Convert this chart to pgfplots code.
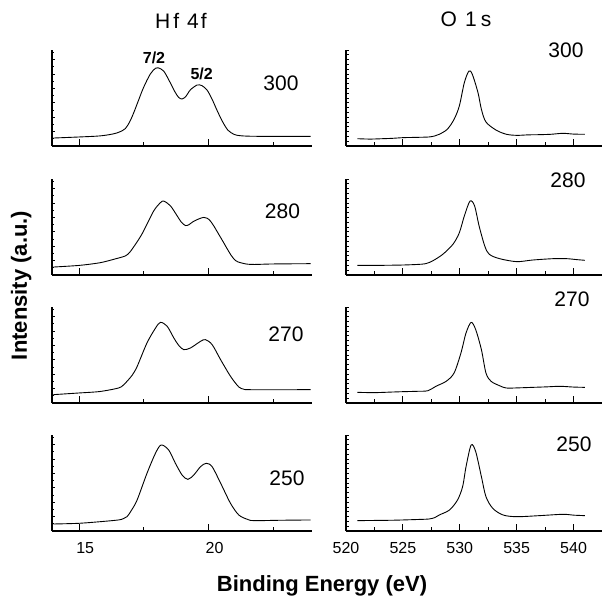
\documentclass[border=0pt]{standalone}
\usepackage{fontspec}
\setmainfont{Liberation Sans}
\usepackage{pgfplots}
\pgfplotsset{compat=1.18}
\newcommand\fs[1]{\fontsize{#1}{#1}\selectfont}

\tikzset{spec/.style={black, line width=0.9pt, smooth, mark=none}}
\pgfplotsset{
  xps/.style={
    scale only axis, height=96pt, anchor=south west,
    axis x line*=bottom, axis y line*=left,
    axis line style={line width=1.3pt},
    ymin=0, ymax=1,
    yticklabels={},
    tick style={black, line width=0.8pt},
    major tick length=7pt, minor tick length=4pt,
    ytick style={/pgfplots/major tick length=3pt, /pgfplots/minor tick length=1.5pt},
    tick align=inside,
    xticklabel style={font=\fs{16}, yshift=-8pt},
  },
  hf/.style={xps, width=260pt, xmin=13.95, xmax=24,
    xtick={15,20}, xticklabels={15,20}, minor xtick={17.5,22.5},
    ytick distance=0.15, minor y tick num=1,
    xticklabel style={xshift=6pt}},
  os/.style={xps, width=256pt, xmin=520, xmax=542.5,
    xtick={520,525,530,535,540}, xticklabels={520,525,530,535,540},
    minor xtick={522.5,527.5,532.5,537.5},
    ytick distance=0.05},
  nolab/.style={xticklabels={}},
}

\begin{document}
\begin{tikzpicture}
\useasboundingbox (0pt,0pt) rectangle (602pt,595pt);

% Hf 4f column
\begin{axis}[hf, nolab, at={(52pt,449pt)}]
\addplot[spec] coordinates {(14.0,0.083) (15.0,0.094) (15.8,0.105) (16.3,0.125) (16.55,0.145)
  (16.78,0.18) (16.95,0.25) (17.1,0.34) (17.3,0.48) (17.49,0.61) (17.75,0.75) (17.95,0.81)
  (18.05,0.815) (18.27,0.78) (18.5,0.67) (18.7,0.565) (18.85,0.505) (18.98,0.49)
  (19.12,0.515) (19.3,0.585) (19.56,0.635) (19.75,0.628) (19.95,0.58) (20.15,0.48)
  (20.34,0.365) (20.55,0.25) (20.75,0.165) (20.98,0.122) (21.2,0.108) (21.6,0.102)
  (22.5,0.1) (23.95,0.1)};
\end{axis}
\begin{axis}[hf, nolab, at={(52pt,320pt)}]
\addplot[spec] coordinates {(14.0,0.083) (15.0,0.10) (15.81,0.128) (16.33,0.163) (16.78,0.198)
  (16.95,0.235) (17.1,0.29) (17.3,0.37) (17.49,0.458) (17.88,0.667) (18.14,0.753) (18.27,0.77)
  (18.53,0.72) (18.79,0.615) (18.95,0.55) (19.11,0.515) (19.25,0.525) (19.43,0.56) (19.82,0.60)
  (20.08,0.56) (20.47,0.39) (20.85,0.215) (21.05,0.15) (21.24,0.128) (21.63,0.11)
  (22.5,0.115) (23.95,0.118)};
\end{axis}
\begin{axis}[hf, nolab, at={(52pt,192pt)}]
\addplot[spec] coordinates {(14.0,0.087) (14.97,0.104) (15.81,0.12) (16.52,0.156) (16.7,0.185)
  (16.85,0.226) (17.05,0.29) (17.24,0.38) (17.62,0.625) (17.95,0.78) (18.14,0.84) (18.4,0.80)
  (18.66,0.677) (18.85,0.6) (19.04,0.556) (19.3,0.573) (19.69,0.642) (19.88,0.66) (20.14,0.608)
  (20.47,0.45) (20.85,0.278) (21.17,0.167) (21.35,0.145) (21.5,0.139) (22.5,0.138) (23.95,0.139)};
\end{axis}
\begin{axis}[hf, at={(52pt,64pt)}]
\addplot[spec] coordinates {(14.0,0.073) (14.97,0.08) (15.81,0.097) (16.52,0.115) (16.7,0.128)
  (16.85,0.149) (17.02,0.215) (17.24,0.323) (17.62,0.60) (17.95,0.81) (18.17,0.896) (18.46,0.844)
  (18.72,0.705) (18.98,0.583) (19.2,0.538) (19.43,0.583) (19.69,0.67) (19.91,0.705) (20.14,0.67)
  (20.47,0.497) (20.85,0.288) (21.17,0.167) (21.5,0.122) (21.76,0.108) (22.8,0.112) (23.95,0.115)};
\end{axis}

% O 1s column
\begin{axis}[os, nolab, at={(346pt,449pt)}]
\addplot[spec] coordinates {(521.0,0.076) (522.1,0.072) (523.2,0.076) (524.1,0.08) (525.0,0.087)
  (526.2,0.09) (527.3,0.094) (527.8,0.105) (528.2,0.122) (528.9,0.174) (529.5,0.278) (529.96,0.417)
  (530.4,0.66) (530.8,0.78) (531.1,0.747) (531.6,0.556) (531.9,0.382) (532.3,0.25)
  (533.2,0.165) (534.1,0.122) (535.0,0.111) (536.0,0.116) (537.0,0.118) (538.0,0.122)
  (539.06,0.132) (540.0,0.124) (541.0,0.122)};
\end{axis}
\begin{axis}[os, nolab, at={(346pt,320pt)}]
\addplot[spec] coordinates {(521.0,0.10) (522.5,0.10) (524.0,0.102) (525.0,0.104) (526.3,0.11)
  (527.0,0.118) (527.6,0.146) (528.5,0.215) (529.4,0.32) (529.96,0.44) (530.4,0.615) (530.9,0.77)
  (531.3,0.72) (531.7,0.51) (532.2,0.30) (532.6,0.215) (533.5,0.17) (535.0,0.139)
  (536.4,0.156) (538.2,0.17) (539.4,0.17) (540.3,0.16) (541.0,0.153)};
\end{axis}
\begin{axis}[os, nolab, at={(346pt,192pt)}]
\addplot[spec] coordinates {(521.0,0.111) (522.5,0.108) (524.0,0.114) (525.0,0.118) (526.3,0.122)
  (527.2,0.128) (527.9,0.174) (528.8,0.226) (529.5,0.3125) (530.1,0.52) (530.55,0.73) (531.0,0.84)
  (531.4,0.764) (531.9,0.556) (532.3,0.3125) (532.75,0.226) (533.5,0.18) (534.1,0.156)
  (535.2,0.158) (536.4,0.163) (537.6,0.168) (538.8,0.174) (540.0,0.166) (541.0,0.163)};
\end{axis}
\begin{axis}[os, at={(346pt,64pt)}]
\addplot[spec] coordinates {(521.0,0.108) (522.5,0.11) (524.0,0.112) (525.0,0.115) (526.3,0.12)
  (527.3,0.125) (527.8,0.14) (528.2,0.167) (529.1,0.219) (529.8,0.323) (530.25,0.462) (530.55,0.67)
  (531.0,0.896) (531.4,0.826) (531.9,0.566) (532.3,0.358) (532.9,0.236) (533.8,0.167) (535.0,0.149)
  (537.0,0.16) (539.06,0.174) (540.0,0.165) (541.0,0.16)};
\end{axis}

% titles and labels
\node[anchor=base, font=\fs{21}] at (181pt,566.7pt) {H\hspace{3pt}f\hspace{8pt}4\hspace{2pt}f};
\node[anchor=base, font=\fs{21}] at (466pt,568.3pt) {O\hspace{8pt}1\hspace{4pt}s};
\node[anchor=base, font=\bfseries\fs{16}] at (154pt,531.7pt) {7/2};
\node[anchor=base, font=\bfseries\fs{16}] at (201.7pt,515pt) {5/2};

\node[anchor=base, font=\fs{21}] at (281pt,504.3pt) {300};
\node[anchor=base, font=\fs{21}] at (282.5pt,376.7pt) {280};
\node[anchor=base, font=\fs{21}] at (286pt,253.3pt) {270};
\node[anchor=base, font=\fs{21}] at (287pt,110pt) {250};
\node[anchor=base, font=\fs{21}] at (566pt,537.7pt) {300};
\node[anchor=base, font=\fs{21}] at (568pt,407.7pt) {280};
\node[anchor=base, font=\fs{21}] at (572pt,288pt) {270};
\node[anchor=base, font=\fs{21}] at (574pt,143.3pt) {250};

\node[anchor=base, font=\bfseries\fs{22}] at (322pt,4pt) {Binding Energy (eV)};
\node[anchor=base, rotate=90, font=\bfseries\fs{22}] at (27pt,309.5pt) {Intensity (a.u.)};
\end{tikzpicture}
\end{document}
